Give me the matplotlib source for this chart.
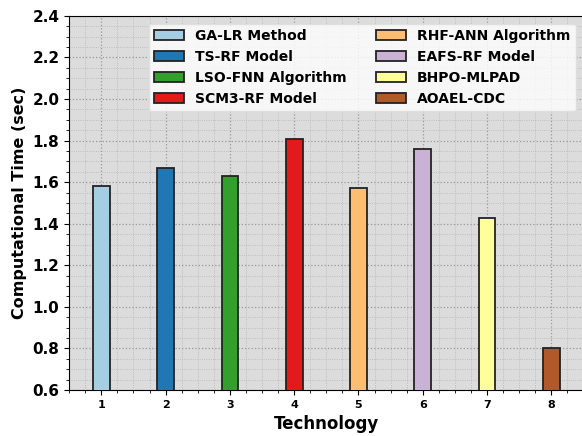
import matplotlib
matplotlib.use("Agg")
import matplotlib.pyplot as plt
from matplotlib.ticker import MultipleLocator, AutoMinorLocator

technologies = [1, 2, 3, 4, 5, 6, 7, 8]
methods = ["GA-LR Method", "TS-RF Model", "LSO-FNN Algorithm", "SCM3-RF Model",
           "RHF-ANN Algorithm", "EAFS-RF Model", "BHPO-MLPAD", "AOAEL-CDC"]
times = [1.58, 1.67, 1.63, 1.81, 1.57, 1.76, 1.43, 0.80]
colors = ["#a6cee3", "#1f78b4", "#33a02c", "#e31a1c",
          "#fdbf6f", "#cab2d6", "#ffff99", "#b15928"]

fig = plt.figure(figsize=(5.82, 4.36), dpi=100)
ax = fig.add_axes([69.2 / 582, 0.1055, (583.4 - 69.2) / 582, 0.858])
ax.set_facecolor("#dcdcdc")

for x, t, c, m in zip(technologies, times, colors, methods):
    ax.bar(x, t, width=0.26, color=c, edgecolor="#222222", linewidth=1.3, label=m, zorder=3)

ax.set_xlim(0.5, 8.5)
ax.set_ylim(0.6, 2.4)
ax.set_xticks(technologies)
ax.yaxis.set_major_locator(MultipleLocator(0.2))
ax.xaxis.set_minor_locator(AutoMinorLocator(4))
ax.yaxis.set_minor_locator(AutoMinorLocator(4))
ax.grid(which="major", linestyle=":", color="#999999", linewidth=0.9, zorder=0)
ax.grid(which="minor", linestyle=":", color="#b5b5b5", linewidth=0.6, zorder=0)
ax.set_axisbelow(True)

for lab in ax.get_yticklabels():
    lab.set_fontweight("bold")
    lab.set_fontsize(11)
for lab in ax.get_xticklabels():
    lab.set_fontweight("bold")
    lab.set_fontsize(8)

ax.set_xlabel("Technology", fontsize=12, fontweight="bold")
ax.set_ylabel("Computational Time (sec)", fontsize=11.5, fontweight="bold")

leg = ax.legend(ncol=2, loc="upper right", prop={"weight": "bold", "size": 10},
                frameon=True, framealpha=0.8, edgecolor="#dddddd",
                handlelength=2.15, handleheight=0.75, columnspacing=2.1,
                borderaxespad=0.55)

fig.savefig("out.png", dpi=100)
